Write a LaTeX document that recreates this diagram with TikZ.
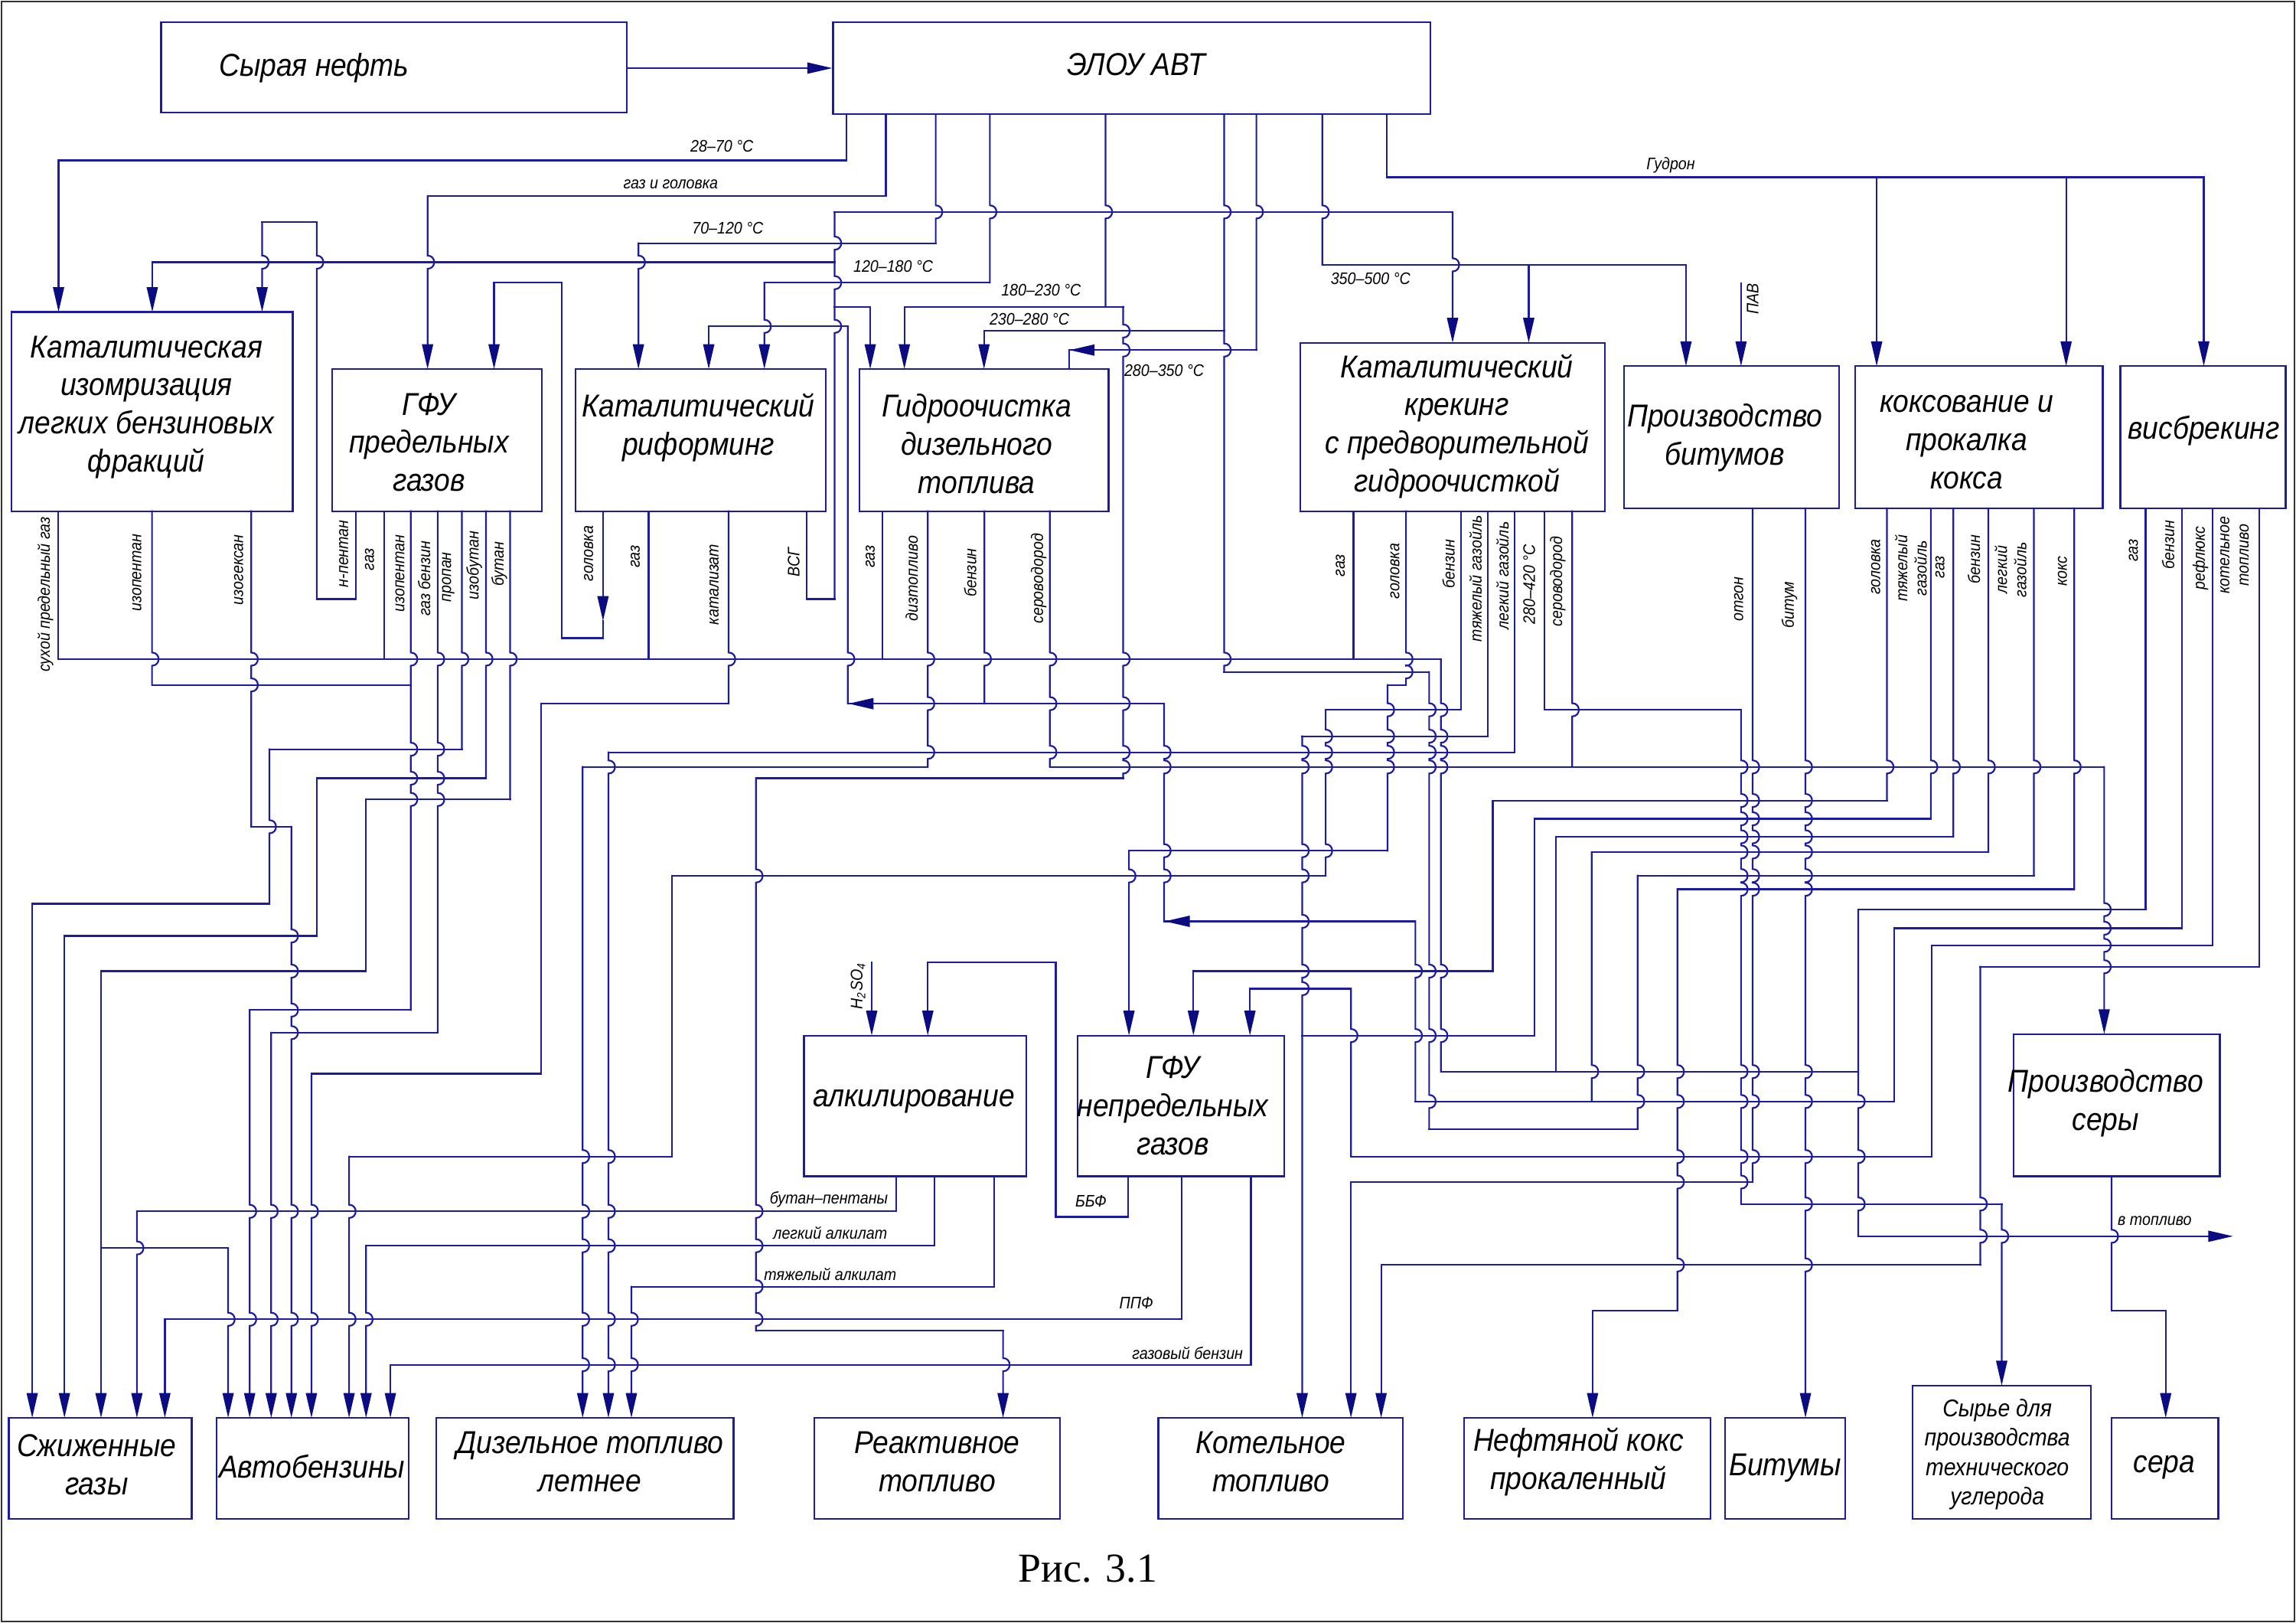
\documentclass[tikz,border=0pt]{standalone}
\usepackage{fontspec}
\setmainfont{Liberation Sans}[FakeStretch=0.9]
\newfontfamily\capfont{Liberation Serif}
\usetikzlibrary{arrows.meta}
\definecolor{wirec}{RGB}{28,28,160}
\definecolor{arrowc}{RGB}{12,12,130}
% horizontal wire segments: y/xa/xb (sorted by y)
\def\hlist{109.5/40/578, 121/947/1505, 134/292/605, 144.7/570/992, 151.7/179/216.3,
166/436/639, 179/104/570, 180.8/903/1151.4, 193/337.4/383.6, 193/522/676,
209.5/570/594.3, 209.5/617.6/767, 222.8/484/579, 226/672/836, 239/730/858,
409/216.3/243, 409/551/570, 435.6/383.6/411.8, 450/39.6/984, 458.7/836/976,
467.6/103.8/280.5, 467.6/947.6/960.2, 480.4/369.6/497.6, 480.4/579/795,
484.6/905.3/997.6, 484.6/1054.6/1189, 502.6/889.3/1016, 511.5/184/315.4,
513.6/415.5/1034.3, 523.6/397.9/633.6, 523.6/717/1437, 531.3/216.3/331.9,
531.3/516.3/767, 545.8/250/348.4, 546.5/1019.4/1288.6, 559/1048/1318.6,
564.4/171.6/199, 571.3/1062.7/1334, 580.8/771/947.6, 581.7/1087/1357.9,
597.8/1118.4/1389, 598/459/905.3, 607.1/1145.5/1416.5, 617/22/184,
621/1269/1465.3, 629/795/966.6, 633.7/1293.7/1490, 639/44/216.3,
645.4/1319.4/1510.8, 656.8/633.6/721, 660/1352.4/1543, 663/69/250,
663/815/1019.4, 675/853.6/922.6, 689.6/170.5/280.5, 705/185.2/298.9,
707/889.3/1048, 731.6/984/1269, 733/212.7/369.6, 752/966.6/1293.7,
770.8/976/1118.4, 789.6/238.4/459, 789.6/922.6/1319.4, 807/922.6/1196.9,
822/1189/1367, 827/93.5/612, 830.8/721/770.3, 844/1269/1515, 850.5/250/638.3,
852/69/155.8, 863.6/943.2/1352.4, 878.4/431.2/679, 894.6/1087.6/1145.5,
894.6/1442/1479, 900.7/112.6/807, 908.5/516.3/685, 931.7/266.6/854.3}
% vertical wire with automatic line-jumps over crossing horizontals
\newcommand\vw[4][]{%
  \gdef\myhops{}%
  \foreach \yy/\xa/\xb in \hlist {%
    \pgfmathtruncatemacro\myok{and(and(\xa<#2-0.5,\xb>#2+0.5),and(\yy>#3+0.5,\yy<#4-0.5))}%
    \ifnum\myok=1\relax
      \xdef\myhops{\myhops -- (#2,\yy-4.5) .. controls (#2+6,\yy-4.5) and (#2+6,\yy+4.5) .. (#2,\yy+4.5)}%
    \fi}%
  \draw[wire,#1] (#2,#3) \myhops -- (#2,#4);}
\newcommand\bx[5]{\node[box,minimum width={(#4-#2)*0.02cm},minimum height={(#5-#3)*0.02cm}] (#1) at ({(#2+#4)/2},{(#3+#5)/2}) {};}
\begin{document}
\begin{tikzpicture}[x=0.02cm,y=-0.02cm,
  wire/.style={draw=wirec,line width=0.65pt,line cap=rect},
  >={Triangle[length=3.4mm,width=1.5mm,color=arrowc]},
  box/.style={draw=wirec,line width=0.7pt,inner sep=0pt},
  btxt/.style={font=\fontsize{12.3}{14.8}\selectfont\itshape,align=center,inner sep=0pt},
  stxt/.style={font=\fontsize{6.5}{7.5}\selectfont\itshape,inner sep=0pt},
  rtxt/.style={font=\fontsize{6.5}{7.5}\selectfont\itshape,inner sep=0pt,rotate=90,align=center}]
\useasboundingbox (0,0) rectangle (1568,1108);
\draw[black!80,line width=0.5pt] (1,1) rectangle (1567,1107);
% ---------- boxes ----------
\bx{crude}{110}{15}{428}{77}
\bx{elou}{569}{15}{977}{78}
\bx{isom}{8}{213}{200}{349}
\bx{gfu}{227}{252}{370}{349}
\bx{reform}{393}{252}{564}{349}
\bx{hydro}{587}{252}{757}{349}
\bx{crack}{888}{234}{1096}{349}
\bx{bitp}{1109}{250}{1256}{347}
\bx{coke}{1267}{250}{1436}{347}
\bx{visb}{1448}{250}{1561}{347}
\bx{alk}{549}{707}{701}{803}
\bx{gfun}{736}{707}{877}{803}
\bx{sulp}{1375}{706}{1516}{803}
\bx{lpg}{6}{968}{131}{1037}
\bx{gas}{148}{968}{279}{1037}
\bx{dies}{298}{968}{501}{1037}
\bx{jet}{556}{968}{724}{1037}
\bx{boil}{791}{968}{958}{1037}
\bx{pcoke}{1000}{968}{1168}{1037}
\bx{bit}{1178}{968}{1260}{1037}
\bx{carb}{1306}{946}{1428}{1037}
\bx{sulf}{1442}{968}{1515}{1037}
% ---------- box texts ----------
\node[btxt] (t1) at (214.5,46.5) {Сырая нефть};
\node[btxt] (t2) at (776,44) {ЭЛОУ АВТ};
\node[btxt] (t3) at (100,278) {Каталитическая\\изомризация\\легких бензиновых\\фракций};
\node[btxt] (t4) at (293,302) {ГФУ\\предельных\\газов};
\node[btxt] (t5) at (477,292) {Каталитический\\риформинг};
\node[btxt] (t6) at (667,303) {Гидроочистка\\дизельного\\топлива};
\node[btxt] (t7) at (995,291) {Каталитический\\крекинг\\с предворительной\\гидроочисткой};
\node[btxt] (t8) at (1178,299) {Производство\\битумов};
\node[btxt] (t9) at (1343,302) {коксование и\\прокалка\\кокса};
\node[btxt] (t10) at (1505,294) {висбрекинг};
\node[btxt] (t11) at (624,752) {алкилирование};
\node[btxt] (t12) at (801,755) {ГФУ\\непредельных\\газов};
\node[btxt] (t13) at (1438,753) {Производство\\серы};
\node[btxt] (t14) at (66,1000) {Сжиженные\\газы};
\node[btxt] (t15) at (213,1001) {Автобензины};
\node[btxt] (t16) at (403,998) {Дизельное топливо\\летнее};
\node[btxt] (t17) at (640,998) {Реактивное\\топливо};
\node[btxt] (t18) at (868,998) {Котельное\\топливо};
\node[btxt] (t19) at (1078,998) {Нефтяной кокс\\прокаленный};
\node[btxt] (t20) at (1219,1002) {Битумы};
\node[btxt,font=\fontsize{9.4}{11.4}\selectfont\itshape] (t21) at (1364,993) {Сырье для\\производства\\технического\\углерода};
\node[btxt] (t22) at (1478,1002) {сера};
\node[font=\capfont\fontsize{16}{19}\selectfont,inner sep=0pt] (cap) at (743,1071) {Рис. 3.1};
% ---------- horizontal wires ----------
\foreach \yy/\xa/\xb in \hlist {\draw[wire] (\xa,\yy) -- (\xb,\yy);}
\draw[wire,->] (crude.east |- 0,46.5) -- (elou.west |- 0,46.5);
\draw[wire,->] (760,239) -- (730.5,239);
\draw[wire,->] (610,480.4) -- (579.5,480.4);
\draw[wire,->] (830,629) -- (795.5,629);
\draw[wire,->] (1490,844) -- (1525,844);
\draw[wire,->] (411.8,395) -- (411.8,424);
% ---------- vertical wires ----------
% ELOU AVT outlets
\vw{578}{78}{109.5}
\vw[->]{40}{109.5}{213}
\vw{605}{78}{134}
\vw[->]{292}{134}{252}
\vw{639}{78}{166}
\vw[->]{436}{166}{252}
\vw{676}{78}{193}
\vw[->]{522}{193}{252}
\vw{755}{78}{209.5}
\vw[->]{617.6}{209.5}{252}
\vw{767}{209.5}{531.3}
\vw{516.3}{531.3}{908.5}
\vw[->]{685}{908.5}{968}
\vw{836}{78}{458.7}
\vw[->]{672}{226}{252}
\vw{976}{458.7}{770.8}
\vw{1118.4}{597.8}{770.8}
\vw{1389}{347}{597.8}
\vw{858}{78}{239}
\vw{730}{239}{252}
\vw{903}{78}{180.8}
\vw[->]{1044}{180.8}{234}
\vw[->]{1151.4}{180.8}{250}
\vw{947}{78}{121}
\vw[->]{1281.6}{121}{250}
\vw[->]{1411}{121}{250}
\vw[->]{1505}{121}{250}
\vw[->]{1189}{193.6}{250}
% VSG
\vw{551}{349}{409}
\vw{570}{144.7}{409}
\vw[->]{992}{144.7}{234}
\vw[->]{104}{179}{213}
\vw[->]{594.3}{209.5}{252}
% n-pentane
\vw{243}{349}{409}
\vw{216.3}{151.7}{409}
\vw[->]{179}{151.7}{213}
% reformer head
\vw{411.8}{349}{395}
\vw{411.8}{424}{435.6}
\vw{383.6}{193}{435.6}
\vw[->]{337.4}{193}{252}
% gas collector
\vw{39.6}{349}{450}
\vw{262.2}{349}{450}
\vw{443}{349}{450}
\vw{602.6}{349}{450}
\vw{924.3}{349}{450}
\vw{984}{450}{731.6}
\vw{1269}{621}{844}
\vw{1062.7}{571.3}{731.6}
\vw{1334}{347}{571.3}
\vw{1465.3}{347}{621}
% catalyzate
\vw{497.6}{349}{480.4}
\vw{369.6}{480.4}{733}
\vw[->]{212.7}{733}{968}
% isopentane
\vw{103.8}{349}{467.6}
\vw{280.5}{349}{689.6}
\vw[->]{170.5}{689.6}{968}
% isohexane
\vw{171.6}{349}{564.4}
\vw[->]{199}{564.4}{968}
% gas gasoline
\vw{298.9}{349}{705}
\vw[->]{185.2}{705}{968}
% propane
\vw{315.4}{349}{511.5}
\vw{184}{511.5}{617}
\vw[->]{22}{617}{968}
% isobutane
\vw{331.9}{349}{531.3}
\vw{216.3}{531.3}{639}
\vw[->]{44}{639}{968}
% butane
\vw{348.4}{349}{545.8}
\vw{250}{545.8}{663}
\vw[->]{69}{663}{968}
\vw[->]{155.8}{852}{968}
% alkylation
\vw{612}{803}{827}
\vw[->]{93.5}{827}{968}
\vw{638.3}{803}{850.5}
\vw[->]{250}{850.5}{968}
\vw{679}{803}{878.4}
\vw[->]{431.2}{878.4}{968}
% unsaturated GFU
\vw{807}{803}{900.7}
\vw[->]{112.6}{900.7}{968}
\vw{854.3}{803}{931.7}
\vw[->]{266.6}{931.7}{968}
\vw{770.3}{803}{830.8}
\vw{721}{656.8}{830.8}
\vw[->]{633.6}{656.8}{707}
\vw[->]{595.3}{656.8}{707}
% hydrotreating
\vw{633.6}{349}{523.6}
\vw[->]{397.9}{523.6}{968}
\vw{672.3}{349}{480.4}
\vw{579}{222.8}{480.4}
\vw[->]{484}{222.8}{252}
\vw{795}{480.4}{629}
\vw{966.6}{629}{752}
\vw{1293.7}{633.7}{752}
\vw{1490}{347}{633.7}
\vw{1087}{581.7}{752}
\vw{1357.9}{347}{581.7}
% hydrogen sulphide
\vw{717}{349}{523.6}
\vw{1073.7}{349}{523.6}
\vw[->]{1437}{523.6}{706}
% catalytic cracking
\vw{960.2}{349}{467.6}
\vw{947.6}{467.6}{580.8}
\vw[->]{771}{580.8}{707}
\vw{997.6}{349}{484.6}
\vw{905.3}{484.6}{598}
\vw{459}{598}{789.6}
\vw[->]{238.4}{789.6}{968}
\vw{1016}{349}{502.6}
\vw[->]{889.3}{502.6}{968}
\vw{1318.6}{347}{559}
\vw{1048}{559}{707}
\vw{1034.3}{349}{513.6}
\vw[->]{415.5}{513.6}{968}
\vw{1054.6}{349}{484.6}
\vw{1189}{484.6}{822}
\vw[->]{1367}{822}{946}
% bitumen
\vw{1196.9}{347}{807}
\vw[->]{922.6}{807}{968}
\vw[->]{1233}{347}{968}
% coking
\vw{1288.6}{347}{546.5}
\vw{1019.4}{546.5}{663}
\vw[->]{815}{663}{707}
\vw{1416.5}{347}{607.1}
\vw{1145.5}{607.1}{894.6}
\vw[->]{1087.6}{894.6}{968}
% visbreaking
\vw{1510.8}{347}{645.4}
\vw{1319.4}{645.4}{789.6}
\vw{922.6}{675}{789.6}
\vw[->]{853.6}{675}{707}
\vw{1543}{347}{660}
\vw{1352.4}{660}{863.6}
\vw[->]{943.2}{863.6}{968}
% sulphur
\vw{1442}{803}{894.6}
\vw[->]{1479}{894.6}{968}
% ---------- flow labels ----------
\node[stxt] (f1) at (493,100) {28–70 °C};
\node[stxt] (f2) at (458,126) {газ и головка};
\node[stxt] (f3) at (497,156) {70–120 °C};
\node[stxt] (f4) at (610,182) {120–180 °C};
\node[stxt] (f5) at (711,198) {180–230 °C};
\node[stxt] (f6) at (703,218) {230–280 °C};
\node[stxt] (f7) at (795,253) {280–350 °C};
\node[stxt] (f8) at (936,190) {350–500 °C};
\node[stxt] (f9) at (1141,113) {Гудрон};
\node[rtxt] (f10) at (1197,204) {ПАВ};
\node[rtxt] (f11) at (586,673) {H\textsubscript{2}SO\textsubscript{4}};
\node[stxt] (f12) at (566,819) {бутан–пентаны};
\node[stxt] (f13) at (567,842) {легкий алкилат};
\node[stxt] (f14) at (567,870) {тяжелый алкилат};
\node[stxt] (f15) at (745,820) {ББФ};
\node[stxt] (f16) at (776,889.6) {ППФ};
\node[stxt] (f17) at (811,923.6) {газовый бензин};
\node[stxt] (f18) at (1471.5,833.7) {в топливо};
% outlet labels
\node[rtxt] (o1) at (31,406) {сухой предельный газ};
\node[rtxt] (o2) at (93.5,391) {изопентан};
\node[rtxt] (o3) at (163,389) {изогексан};
\node[rtxt] (o4) at (234.7,378) {н-пентан};
\node[rtxt] (o5) at (252.3,382) {газ};
\node[rtxt] (o6) at (273.2,391.5) {изопентан};
\node[rtxt] (o7) at (289.7,395) {газ бензин};
\node[rtxt] (o8) at (306.2,394) {пропан};
\node[rtxt] (o9) at (323.8,386) {изобутан};
\node[rtxt] (o10) at (341,385) {бутан};
\node[rtxt] (o11) at (402,378) {головка};
\node[rtxt] (o12) at (433.8,380) {газ};
\node[rtxt] (o13) at (487.7,399) {катализат};
\node[rtxt] (o14) at (542,384) {ВСГ};
\node[rtxt] (o15) at (594.3,380) {газ};
\node[rtxt] (o16) at (622.6,395) {дизтопливо};
\node[rtxt] (o17) at (662.6,391) {бензин};
\node[rtxt] (o18) at (709.3,395) {сероводород};
\node[rtxt] (o19) at (915.3,386) {газ};
\node[rtxt] (o20) at (952.6,390) {головка};
\node[rtxt] (o21) at (989.3,385) {бензин};
\node[rtxt] (o22) at (1007.7,395) {тяжелый газойль};
\node[rtxt] (o23) at (1026,393) {легкий газойль};
\node[rtxt] (o24) at (1044.3,399) {280–420 °C};
\node[rtxt] (o25) at (1063.8,397) {сероводород};
\node[rtxt] (o26) at (1187.4,409) {отгон};
\node[rtxt] (o27) at (1222,413) {битум};
\node[rtxt] (o28) at (1281,387) {головка};
\node[rtxt] (o29) at (1305,388) {тяжелый\\газойль};
\node[rtxt] (o30) at (1324.9,387) {газ};
\node[rtxt] (o31) at (1348,382) {бензин};
\node[rtxt] (o32) at (1373,389) {легкий\\газойль};
\node[rtxt] (o33) at (1408.5,390) {кокс};
\node[rtxt] (o34) at (1457,376) {газ};
\node[rtxt] (o35) at (1480.7,372) {бензин};
\node[rtxt] (o36) at (1502.7,381) {рефлюкс};
\node[rtxt] (o37) at (1526,379) {котельное\\топливо};
\end{tikzpicture}
\end{document}
